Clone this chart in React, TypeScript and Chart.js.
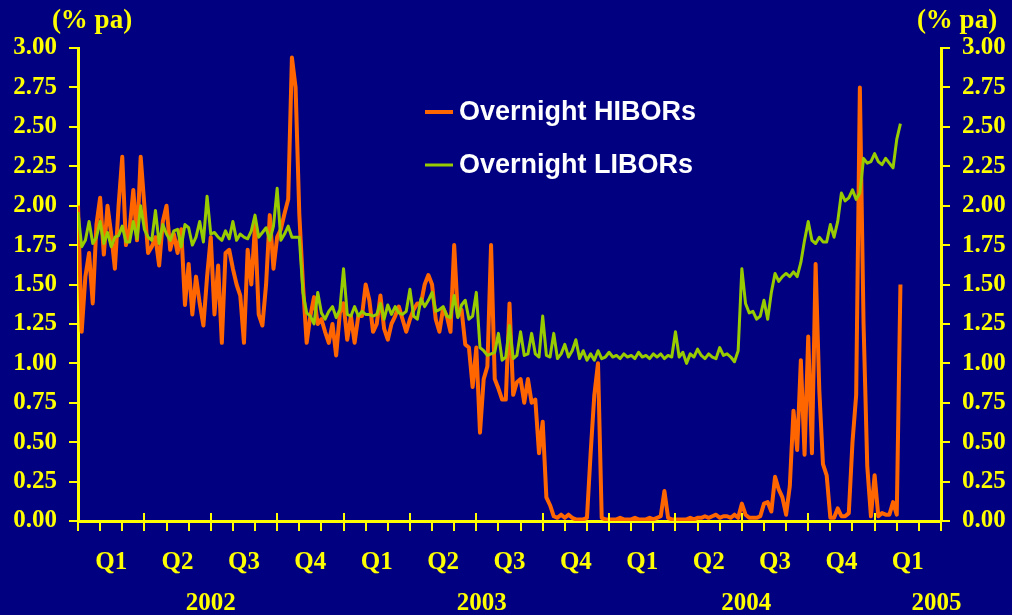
import React, { useEffect, useRef } from "react";
import { Chart, registerables } from "chart.js";

Chart.register(...registerables);

// x position of each value = index * STEP_MONTHS (months since Jan 2002)
const STEP_MONTHS = 1 / 6;
const MONTH_COUNT = 39;

const HIBOR = [
  2.0, 1.2, 1.55, 1.7, 1.38, 1.88, 2.05, 1.69, 2.0, 1.82,
  1.6, 2.0, 2.31, 1.75, 1.85, 2.1, 1.78, 2.31, 2.0, 1.7,
  1.74, 1.8, 1.62, 1.9, 2.0, 1.72, 1.82, 1.7, 1.85, 1.37,
  1.63, 1.31, 1.55, 1.38, 1.24, 1.55, 1.8, 1.31, 1.62, 1.13,
  1.7, 1.72, 1.6, 1.5, 1.43, 1.13, 1.72, 1.5, 1.88, 1.31,
  1.24, 1.5, 1.94, 1.6, 1.8, 1.85, 1.95, 2.04, 2.94, 2.75,
  1.95, 1.5, 1.13, 1.3, 1.42, 1.25, 1.28, 1.2, 1.13, 1.25,
  1.05, 1.32, 1.38, 1.15, 1.3, 1.13, 1.3, 1.3, 1.5, 1.4,
  1.2, 1.25, 1.43, 1.22, 1.15, 1.25, 1.3, 1.36, 1.28, 1.2,
  1.28, 1.34, 1.38, 1.38, 1.5, 1.56, 1.5, 1.28, 1.2, 1.35,
  1.3, 1.2, 1.75, 1.3, 1.34, 1.12, 1.1, 0.85, 1.1, 0.56,
  0.9, 0.98, 1.75, 0.9, 0.84, 0.77, 0.77, 1.38, 0.8, 0.88,
  0.9, 0.75, 0.9, 0.75, 0.77, 0.43, 0.63, 0.15, 0.1, 0.03,
  0.02, 0.04, 0.02, 0.04, 0.02, 0.01, 0.01, 0.01, 0.02, 0.43,
  0.8, 1.0, 0.02, 0.01, 0.01, 0.01, 0.01, 0.02, 0.01, 0.01,
  0.01, 0.02, 0.01, 0.01, 0.01, 0.02, 0.01, 0.02, 0.03, 0.19,
  0.02, 0.01, 0.01, 0.01, 0.01, 0.01, 0.02, 0.01, 0.02, 0.02,
  0.03, 0.02, 0.03, 0.04, 0.02, 0.03, 0.03, 0.02, 0.04, 0.02,
  0.11, 0.04, 0.02, 0.02, 0.02, 0.03, 0.11, 0.12, 0.06, 0.28,
  0.2, 0.15, 0.04, 0.22, 0.7, 0.45, 1.02, 0.42, 1.17, 0.43,
  1.63, 0.83, 0.36, 0.29, 0.02, 0.02, 0.08, 0.03, 0.03, 0.05,
  0.5, 0.8, 2.75, 1.25, 0.35, 0.03, 0.29, 0.03, 0.05, 0.04,
  0.04, 0.12, 0.04, 1.5,
];

const LIBOR = [
  1.96, 1.74, 1.78, 1.9, 1.76, 1.8, 1.9, 1.76, 1.83, 1.74,
  1.8, 1.81, 1.87, 1.77, 1.77, 1.9, 1.79, 2.0, 1.85, 1.8,
  1.78, 1.97, 1.76, 1.88, 1.82, 1.78, 1.84, 1.85, 1.74, 1.88,
  1.86, 1.75, 1.8, 1.9, 1.77, 2.06, 1.82, 1.83, 1.8, 1.78,
  1.84, 1.79, 1.9, 1.78, 1.82, 1.8, 1.79, 1.84, 1.94, 1.8,
  1.83, 1.86, 1.78, 1.87, 2.11, 1.78, 1.82, 1.87, 1.8, 1.8,
  1.8, 1.45, 1.32, 1.3, 1.25, 1.45, 1.32, 1.28, 1.33, 1.36,
  1.29, 1.34, 1.6, 1.31, 1.3, 1.36, 1.3, 1.33, 1.31, 1.31,
  1.3, 1.31, 1.38, 1.28, 1.37, 1.31, 1.36, 1.32, 1.31, 1.33,
  1.47, 1.3, 1.28, 1.41, 1.36, 1.4, 1.45, 1.33, 1.34, 1.36,
  1.3, 1.29, 1.43, 1.29, 1.37, 1.4, 1.28, 1.3, 1.45, 1.1,
  1.08, 1.05, 1.06, 1.07, 1.19, 1.02, 1.04, 1.24, 1.03, 1.05,
  1.2, 1.05, 1.06, 1.19, 1.06, 1.04, 1.3, 1.05, 1.04, 1.19,
  1.03, 1.06, 1.12, 1.04, 1.08, 1.15, 1.03, 1.08, 1.02, 1.06,
  1.02, 1.08, 1.03, 1.04, 1.07, 1.04, 1.05, 1.03, 1.06, 1.04,
  1.05, 1.03, 1.07, 1.04, 1.05, 1.03, 1.06, 1.04, 1.06, 1.03,
  1.05, 1.04, 1.2, 1.04, 1.07, 1.0, 1.06, 1.04, 1.09, 1.05,
  1.03, 1.06, 1.04, 1.03, 1.1, 1.05, 1.06, 1.04, 1.01, 1.08,
  1.6, 1.38, 1.32, 1.33, 1.28, 1.3, 1.4, 1.28, 1.45, 1.57,
  1.52, 1.55, 1.57, 1.55, 1.58, 1.55, 1.64, 1.78, 1.9, 1.78,
  1.76, 1.8, 1.77, 1.77, 1.88, 1.8, 1.9, 2.08, 2.03, 2.05,
  2.1, 2.04, 2.08, 2.3, 2.27, 2.28, 2.33, 2.28, 2.26, 2.3,
  2.27, 2.24, 2.42, 2.52,
];

const SERIES_NAMES = ["Overnight HIBORs", "Overnight LIBORs"];
const Q_LABELS = ["Q1", "Q2", "Q3", "Q4", "Q1", "Q2", "Q3", "Q4", "Q1", "Q2", "Q3", "Q4", "Q1"];
const QUARTER_MIDS = Q_LABELS.map((_, k) => k * 3 + 1.5);
const YEAR_LABELS = ["2002", "2003", "2004", "2005"];
const YEAR_POS = [6, 18.25, 30.2, 38.8];
const Y_MIN = 0;
const Y_MAX = 3;
const Y_STEP = 0.25;
const UNIT_LABEL = "(% pa)";

const BG = "#000080";
const YELLOW = "#FFFF00";
const ORANGE = "#FF6600";
const GREEN = "#99CC00";
const SERIF = "'Liberation Serif', 'Times New Roman', serif";
const SANS = "'Liberation Sans', Arial, sans-serif";

const decorPlugin = {
  id: "decor",
  beforeDraw(chart: any) {
    const { ctx, width, height } = chart;
    ctx.save();
    ctx.fillStyle = BG;
    ctx.fillRect(0, 0, width, height);
    ctx.restore();
  },
  afterDraw(chart: any) {
    const { ctx, chartArea } = chart;
    const xs = chart.scales.x;
    ctx.save();
    // month tick marks
    ctx.strokeStyle = YELLOW;
    ctx.lineWidth = 2;
    for (let m = 0; m <= MONTH_COUNT; m++) {
      const px = Math.round(xs.getPixelForValue(m));
      const major = m % 3 === 0;
      ctx.beginPath();
      ctx.moveTo(px, chartArea.bottom + (major ? -8 : 0));
      ctx.lineTo(px, chartArea.bottom + 10);
      ctx.stroke();
    }
    // unit labels
    ctx.font = `bold 27px ${SERIF}`;
    ctx.fillStyle = YELLOW;
    ctx.textAlign = "center";
    ctx.textBaseline = "middle";
    ctx.fillText(UNIT_LABEL, chartArea.left + 14, 21);
    ctx.fillText(UNIT_LABEL, chartArea.right + 16, 21);
    // legend
    const ds = chart.data.datasets;
    const rows = [112, 165];
    ctx.font = `bold 27px ${SANS}`;
    ctx.textAlign = "left";
    ds.forEach((d: any, k: number) => {
      const y = rows[k];
      ctx.strokeStyle = d.borderColor;
      ctx.lineWidth = k === 0 ? 4 : 3;
      ctx.beginPath();
      ctx.moveTo(425, y);
      ctx.lineTo(453, y);
      ctx.stroke();
      ctx.fillStyle = "#FFFFFF";
      ctx.fillText(d.label, 459, y + 1);
    });
    ctx.restore();
  },
};

export default function App() {
  const ref = useRef<HTMLCanvasElement>(null);

  useEffect(() => {
    const canvas = ref.current;
    if (!canvas) return;
    const tickFont = { family: SERIF, size: 25, weight: "bold" as const };
    const chart = new Chart(canvas, {
      type: "line",
      data: {
        datasets: [
          {
            label: SERIES_NAMES[0],
            data: HIBOR.map((v, i) => ({ x: i * STEP_MONTHS, y: v })),
            borderColor: ORANGE,
            borderWidth: 4,
            pointRadius: 0,
            tension: 0,
            borderJoinStyle: "round",
            order: 1,
            xAxisID: "x",
            yAxisID: "y",
          },
          {
            label: SERIES_NAMES[1],
            data: LIBOR.map((v, i) => ({ x: i * STEP_MONTHS, y: v })),
            borderColor: GREEN,
            borderWidth: 3,
            pointRadius: 0,
            tension: 0,
            borderJoinStyle: "round",
            order: 0,
            xAxisID: "x",
            yAxisID: "y",
          },
        ],
      },
      options: {
        animation: false,
        responsive: false,
        devicePixelRatio: 1,
        events: [],
        layout: { padding: { top: 48, left: 0, right: 0, bottom: 0 } },
        plugins: { legend: { display: false }, tooltip: { enabled: false } },
        scales: {
          x: {
            type: "linear",
            position: "bottom",
            weight: 0,
            min: 0,
            max: MONTH_COUNT,
            grid: { display: false },
            border: { display: true, color: YELLOW, width: 3 },
            ticks: {
              color: YELLOW,
              font: tickFont,
              padding: 19,
              autoSkip: false,
              maxRotation: 0,
              callback: (_v: any, i: number) => Q_LABELS[i],
            },
            afterBuildTicks: (s: any) => {
              s.ticks = QUARTER_MIDS.map((v) => ({ value: v }));
            },
            afterFit: (s: any) => {
              s.height = 55;
            },
          },
          x2: {
            type: "linear",
            position: "bottom",
            weight: 1,
            min: 0,
            max: MONTH_COUNT,
            grid: { display: false },
            border: { display: false },
            ticks: {
              color: YELLOW,
              font: tickFont,
              padding: 5,
              autoSkip: false,
              maxRotation: 0,
              callback: (_v: any, i: number) => YEAR_LABELS[i],
            },
            afterBuildTicks: (s: any) => {
              s.ticks = YEAR_POS.map((v) => ({ value: v }));
            },
            afterFit: (s: any) => {
              s.height = 39;
            },
          },
          y: {
            position: "left",
            min: Y_MIN,
            max: Y_MAX,
            grid: { drawOnChartArea: false, drawTicks: true, tickLength: 9, color: YELLOW, lineWidth: 2 },
            border: { display: true, color: YELLOW, width: 3 },
            ticks: {
              stepSize: Y_STEP,
              color: YELLOW,
              font: tickFont,
              padding: 12,
              callback: (v: any) => Number(v).toFixed(2),
            },
            afterFit: (s: any) => {
              s.width = 78;
            },
          },
          y2: {
            position: "right",
            min: Y_MIN,
            max: Y_MAX,
            grid: { drawOnChartArea: false, drawTicks: true, tickLength: 9, color: YELLOW, lineWidth: 2 },
            border: { display: true, color: YELLOW, width: 3 },
            ticks: {
              stepSize: Y_STEP,
              color: YELLOW,
              font: tickFont,
              padding: 12,
              callback: (v: any) => Number(v).toFixed(2),
            },
            afterFit: (s: any) => {
              s.width = 71;
            },
          },
        },
      } as any,
      plugins: [decorPlugin],
    });
    return () => chart.destroy();
  }, []);

  return (
    <div style={{ position: "absolute", left: 0, top: 0, width: 1012, height: 615, background: BG }}>
      <canvas ref={ref} width={1012} height={615} style={{ display: "block", width: 1012, height: 615 }} />
    </div>
  );
}
